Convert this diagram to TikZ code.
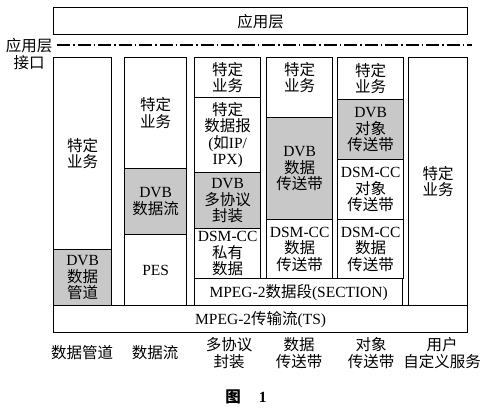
\documentclass[tikz,border=0pt]{standalone}
\usepackage{fontspec}
\setmainfont{Liberation Serif}
\newfontfamily\cjkfont{Noto Sans CJK SC}
\newcommand\zh[1]{{\cjkfont #1}}
\usetikzlibrary{positioning}
\definecolor{LayerGray}{HTML}{C8C8C8}

\begin{document}
\begin{tikzpicture}[x=1pt,y=-1pt,
  cell/.style={draw,line width=1.3pt,anchor=north west,align=center,inner sep=0pt,
    font=\fontsize{15.5}{16.5}\selectfont},
  lbl/.style={align=center,inner sep=0pt,font=\fontsize{15.5}{16.5}\selectfont}]
  \useasboundingbox (0,0) rectangle (484,408);
  \foreach \name/\x/\y/\w/\h/\f/\txt in {
    app/53/7/414/27/white/{\zh{应用层}},
    a1/53/57/58/192/white/{\zh{特定}\\\zh{业务}},
    a2/53/249/58/56/LayerGray/{DVB\\\zh{数据}\\\zh{管道}},
    b1/124/57/62/111/white/{\zh{特定}\\\zh{业务}},
    b2/124/168/62/66/LayerGray/{DVB\\\zh{数据流}},
    b3/124/234/62/71/white/{PES},
    c1/194/57/66/40/white/{\zh{特定}\\\zh{业务}},
    c2/194/97/66/75/white/{\zh{特定}\\\zh{数据报}\\(\zh{如}IP/\\IPX)},
    c3/194/172/66/56/LayerGray/{DVB\\\zh{多协议}\\\zh{封装}},
    c4/194/228/66/50/white/{DSM-CC\\\zh{私有}\\\zh{数据}},
    d1/266/57/66/60/white/{},
    d2/266/117/66/102/LayerGray/{DVB\\\zh{数据}\\\zh{传送带}},
    d3/266/219/66/59/white/{DSM-CC\\\zh{数据}\\\zh{传送带}},
    e1/337/57/66/42/white/{\zh{特定}\\\zh{业务}},
    e2/337/99/66/60/LayerGray/{DVB\\\zh{对象}\\\zh{传送带}},
    e3/337/159/66/60/white/{DSM-CC\\\zh{对象}\\\zh{传送带}},
    e4/337/219/66/59/white/{DSM-CC\\\zh{数据}\\\zh{传送带}},
    f1/408/57/59/248/white/{\zh{特定}\\\zh{业务}},
    sec/194/278/208/27/white/{MPEG-2\zh{数据段}(SECTION)},
    ts/53/305/414/27/white/{MPEG-2\zh{传输流}(TS)}}
    \node[cell,fill=\f,minimum width=\w,minimum height=\h] (\name) at (\x,\y) {\txt};
  \node[lbl,below=5pt of d1.north] (d1t) {\zh{特定}\\\zh{业务}};
  \coordinate (ifl) at (57,45);
  \coordinate (ifr) at (472,45);
  \draw[line width=1.2pt,dash pattern=on 13pt off 3pt on 1.5pt off 3pt] (ifl) -- (ifr);
  \node[lbl] (iface) at (29,54) {\zh{应用层}\\\zh{接口}};
  \foreach \name/\x/\txt in {
    pipe/82/{\zh{数据管道}},
    stream/155/{\zh{数据流}},
    mpe/229/{\zh{多协议}\\\zh{封装}},
    dcar/299/{\zh{数据}\\\zh{传送带}},
    ocar/371/{\zh{对象}\\\zh{传送带}},
    user/442/{\zh{用户}\\\zh{自定义服务}}}
    \node[lbl] (\name) at (\x,353) {\txt};
  \node[lbl,font=\fontsize{15.5}{16.5}\selectfont\bfseries] (cap) at (246,397) {\zh{图}\hspace{18pt}1};
\end{tikzpicture}
\end{document}
